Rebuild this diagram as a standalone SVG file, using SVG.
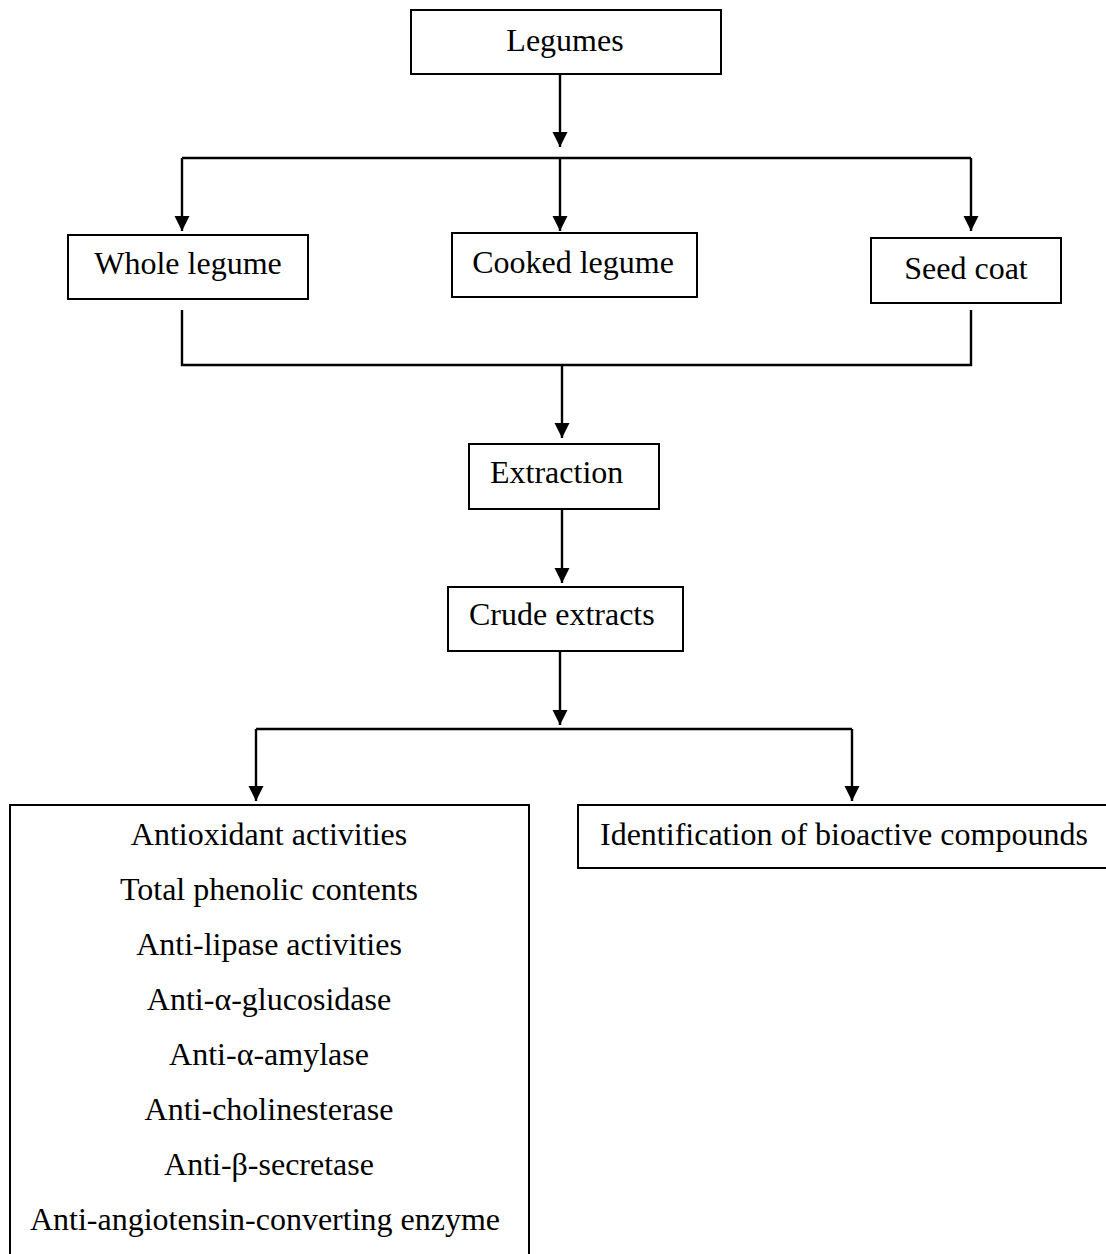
<svg xmlns="http://www.w3.org/2000/svg" width="1106" height="1254" viewBox="0 0 1106 1254">
<style>
.box{fill:#fff;stroke:#000;stroke-width:2}
.t{font-family:"Liberation Serif","Times New Roman",serif;font-size:32px;fill:#000}
.c{text-anchor:middle}
.ln{fill:none;stroke:#000;stroke-width:2.4}
</style>
<defs>
<marker id="ah" markerUnits="userSpaceOnUse" markerWidth="18" markerHeight="18" viewBox="0 0 18 18" refX="15" refY="9" orient="auto">
<path d="M0,1.5 L15,9 L0,16.5 Z" fill="#000"/>
</marker>
</defs>
<g id="connectors">
<line class="ln" x1="560" y1="74" x2="560" y2="147" marker-end="url(#ah)"/>
<line class="ln" x1="182" y1="158" x2="971" y2="158"/>
<line class="ln" x1="182" y1="158" x2="182" y2="231" marker-end="url(#ah)"/>
<line class="ln" x1="560" y1="158" x2="560" y2="231" marker-end="url(#ah)"/>
<line class="ln" x1="971" y1="158" x2="971" y2="231" marker-end="url(#ah)"/>
<polyline class="ln" points="182,310 182,365 971,365 971,310"/>
<line class="ln" x1="562" y1="365" x2="562" y2="438" marker-end="url(#ah)"/>
<line class="ln" x1="562" y1="509" x2="562" y2="583" marker-end="url(#ah)"/>
<line class="ln" x1="560" y1="651" x2="560" y2="725" marker-end="url(#ah)"/>
<line class="ln" x1="256" y1="729" x2="852" y2="729"/>
<line class="ln" x1="256" y1="729" x2="256" y2="801" marker-end="url(#ah)"/>
<line class="ln" x1="852" y1="729" x2="852" y2="801" marker-end="url(#ah)"/>
</g>
<g id="legumes">
<rect class="box" x="411" y="10" width="310" height="64"/>
<text class="t c" x="565" y="51">Legumes</text>
</g>
<g id="whole-legume">
<rect class="box" x="68" y="235" width="240" height="64"/>
<text class="t c" x="188" y="274">Whole legume</text>
</g>
<g id="cooked-legume">
<rect class="box" x="452" y="233" width="245" height="64"/>
<text class="t c" x="573" y="273">Cooked legume</text>
</g>
<g id="seed-coat">
<rect class="box" x="871" y="238" width="190" height="65"/>
<text class="t c" x="966" y="279">Seed coat</text>
</g>
<g id="extraction">
<rect class="box" x="469" y="444" width="190" height="65"/>
<text class="t" x="490" y="483">Extraction</text>
</g>
<g id="crude-extracts">
<rect class="box" x="448" y="587" width="235" height="64"/>
<text class="t" x="469" y="625">Crude extracts</text>
</g>
<g id="activities">
<rect class="box" x="10" y="805" width="519" height="470"/>
<text class="t c" x="269" y="845">Antioxidant activities</text>
<text class="t c" x="269" y="900">Total phenolic contents</text>
<text class="t c" x="269" y="955">Anti-lipase activities</text>
<text class="t c" x="269" y="1010">Anti-α-glucosidase</text>
<text class="t c" x="269" y="1065">Anti-α-amylase</text>
<text class="t c" x="269" y="1120">Anti-cholinesterase</text>
<text class="t c" x="269" y="1175">Anti-β-secretase</text>
<text class="t c" x="265" y="1230">Anti-angiotensin-converting enzyme</text>
</g>
<g id="identification">
<rect class="box" x="578" y="805" width="560" height="63"/>
<text class="t" x="600" y="845">Identification of bioactive compounds</text>
</g>
</svg>
